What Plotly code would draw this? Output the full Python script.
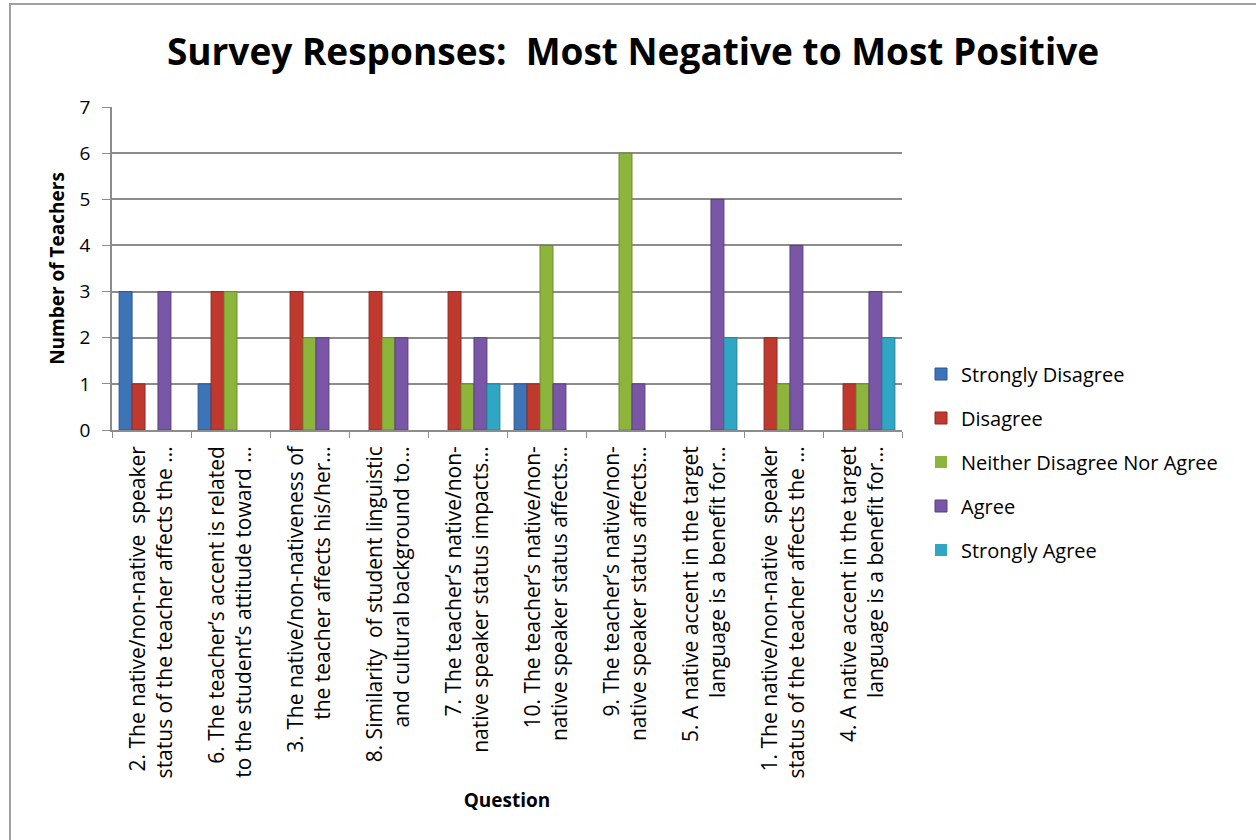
import plotly.graph_objects as go

categories = [
    "2. The native/non-native  speaker<br>status of the teacher affects the ...",
    "6. The teacher’s accent is related<br>to the student’s attitude toward ...",
    "3. The native/non-nativeness of<br>the teacher affects his/her...",
    "8. Similarity  of student linguistic<br>and cultural background to...",
    "7. The teacher’s native/non-<br>native speaker status impacts...",
    "10. The teacher’s native/non-<br>native speaker status affects...",
    "9. The teacher’s native/non-<br>native speaker status affects...",
    "5. A native accent in the target<br>language is a benefit for...",
    "1. The native/non-native  speaker<br>status of the teacher affects the ...",
    "4. A native accent in the target<br>language is a benefit for...",
]

strongly_disagree = [3, 1, 0, 0, 0, 1, 0, 0, 0, 0]
disagree = [1, 3, 3, 3, 3, 1, 0, 0, 2, 1]
neither = [0, 3, 2, 2, 1, 4, 6, 0, 1, 1]
agree = [3, 0, 2, 2, 2, 1, 1, 5, 4, 3]
strongly_agree = [0, 0, 0, 0, 1, 0, 0, 2, 0, 2]

series_names = ["Strongly Disagree", "Disagree", "Neither Disagree Nor Agree", "Agree", "Strongly Agree"]
series_values = [strongly_disagree, disagree, neither, agree, strongly_agree]
colors = ["#3D74B8", "#C0392F", "#8DB53C", "#7A56A6", "#2FA7C4"]
edges = ["#2A5690", "#8E2A24", "#6A8C2B", "#5A3E80", "#22809A"]

fig = go.Figure()
for i, (name, vals) in enumerate(zip(series_names, series_values)):
    fig.add_trace(go.Bar(
        x=categories, y=vals, name=name,
        marker=dict(color=colors[i],
                    line=dict(color=edges[i], width=[1 if v > 0 else 0 for v in vals])),
        legendgroup=name,
    ))

W, H = 1256, 840
L, R, T, B = 112, 354, 107, 410
pw, ph = W - L - R, H - T - B

fig.update_layout(
    width=W, height=H,
    margin=dict(l=L, r=R, t=T, b=B),
    paper_bgcolor="white", plot_bgcolor="white",
    barmode="group", bargap=0.18, bargroupgap=0,
    font=dict(family="Open Sans, Liberation Sans, sans-serif", color="#000000"),
    title=dict(text="<b>Survey Responses:  Most Negative to Most Positive</b>",
               x=(633 - L) / pw, xref="paper", xanchor="center",
               y=1 - 52 / H, yanchor="middle",
               font=dict(size=37, color="#000000")),
    legend=dict(x=(921 - L) / pw, xanchor="left", y=0.5 - (462 - (T + ph / 2)) / ph, yanchor="middle",
                font=dict(size=20, color="#000000"), tracegroupgap=15,
                itemwidth=30, bgcolor="rgba(0,0,0,0)"),
    showlegend=True,
)

fig.update_xaxes(
    type="category", tickangle=-90,
    tickfont=dict(size=21, color="#000000"),
    ticks="outside", tickson="boundaries", ticklen=6, tickcolor="#8c8c8c",
    ticklabelstandoff=6,
    showline=True, linecolor="#8c8c8c", linewidth=1.5,
    showgrid=False,
    title=dict(text="<b>Question</b>", font=dict(size=19, color="#000000"), standoff=16),
)
fig.update_yaxes(
    range=[0, 7], dtick=1,
    tickfont=dict(size=19, color="#000000"),
    ticks="outside", ticklen=8, tickcolor="#8c8c8c",
    ticklabelstandoff=8,
    showline=True, linecolor="#8c8c8c", linewidth=1.5,
    showgrid=True, gridcolor="#8c8c8c", gridwidth=1.5,
    zeroline=False,
    title=dict(text="<b>Number of Teachers</b>", font=dict(size=19, color="#000000"), standoff=10),
)

# outer chart border
fig.add_shape(type="rect", xref="paper", yref="paper",
              x0=(10 - L) / pw, x1=(W + 5 - L) / pw,
              y0=(H - B - (H + 5)) / ph, y1=(H - B - 4) / ph,
              line=dict(color="#a0a0a0", width=2), fillcolor="rgba(0,0,0,0)", layer="below")

fig.write_html("out.html")
